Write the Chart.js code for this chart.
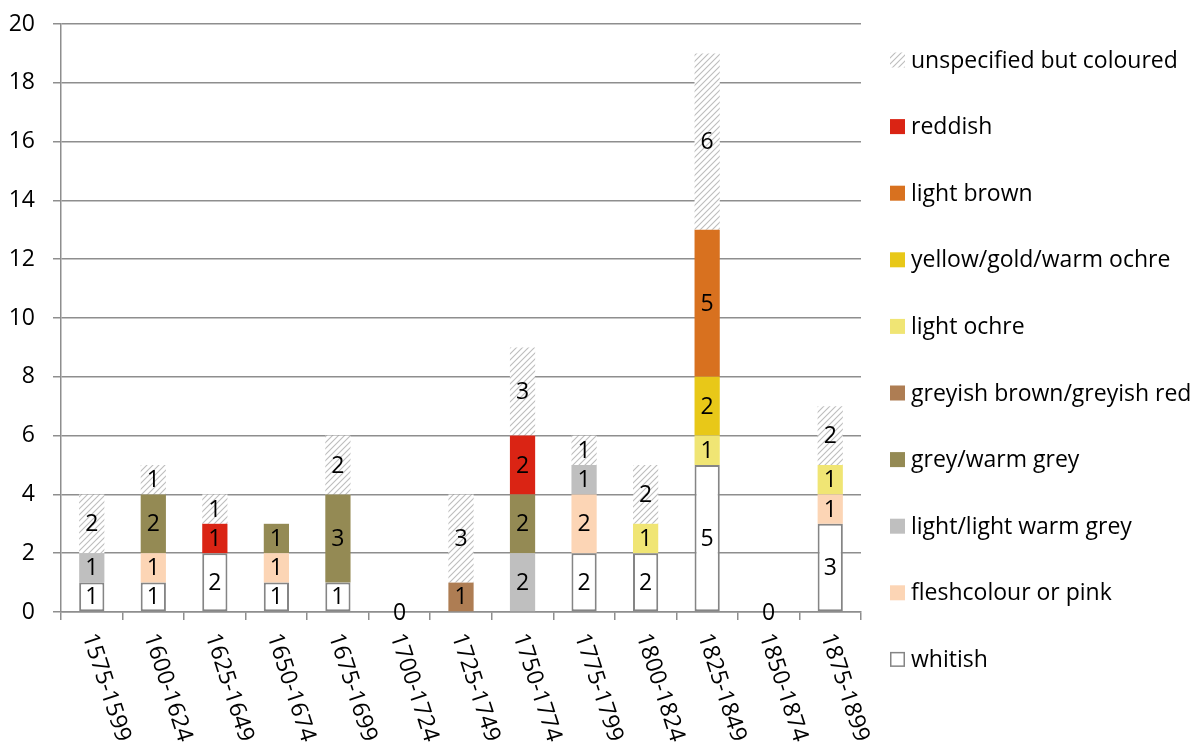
<!DOCTYPE html>
<html>
<head>
<meta charset="utf-8">
<script src="https://cdn.jsdelivr.net/npm/chart.js@4/dist/chart.umd.min.js"></script>
<style>
  html, body { margin: 0; padding: 0; background: #fff; }
  canvas { display: block; }
</style>
</head>
<body>
<canvas id="colourChart" width="1197" height="747"></canvas>
<script>
// Periods (x axis)
const categories = ['1575-1599', '1600-1624', '1625-1649', '1650-1674', '1675-1699', '1700-1724',
    '1725-1749', '1750-1774', '1775-1799', '1800-1824', '1825-1849', '1850-1874', '1875-1899'];

// Counts per colour group, bottom of the stack first
const whitish      = [1, 1, 2, 1, 1, 0, null, null, 2, 2, 5, 0, 3];
const fleshcolour  = [null, 1, null, 1, null, null, null, null, 2, null, null, null, 1];
const lightGrey    = [1, null, null, null, null, null, null, 2, 1, null, null, null, null];
const warmGrey     = [null, 2, null, 1, 3, null, null, 2, null, null, null, null, null];
const greyishBrown = [null, null, null, null, null, null, 1, null, null, null, null, null, null];
const lightOchre   = [null, null, null, null, null, null, null, null, null, 1, 1, null, 1];
const yellowGold   = [null, null, null, null, null, null, null, null, null, null, 2, null, null];
const lightBrown   = [null, null, null, null, null, null, null, null, null, null, 5, null, null];
const reddish      = [null, null, 1, null, null, null, null, 2, null, null, null, null, null];
const unspecified  = [2, 1, 1, null, 2, null, 3, 3, 1, 2, 6, null, 2];

const yTicks = [0, 2, 4, 6, 8, 10, 12, 14, 16, 18, 20];

const FONT = "'Open Sans', sans-serif";
const FONT_SIZE = 23;

// Hatched fill for "unspecified but coloured"
function makeHatch() {
    const c = document.createElement('canvas');
    c.width = 6;
    c.height = 6;
    const g = c.getContext('2d');
    g.fillStyle = '#ffffff';
    g.fillRect(0, 0, 6, 6);
    g.strokeStyle = '#bdbdbd';
    g.lineWidth = 1.1;
    g.beginPath();
    g.moveTo(0, 6); g.lineTo(6, 0);
    g.moveTo(-1, 1); g.lineTo(1, -1);
    g.moveTo(5, 7); g.lineTo(7, 5);
    g.stroke();
    return g.createPattern(c, 'repeat');
}
const hatch = makeHatch();

const datasets = [
    { label: 'whitish', data: whitish, backgroundColor: '#ffffff', borderColor: '#858585', borderWidth: 2 },
    { label: 'fleshcolour or pink', data: fleshcolour, backgroundColor: '#fcd5b5' },
    { label: 'light/light warm grey', data: lightGrey, backgroundColor: '#bfbfbf' },
    { label: 'grey/warm grey', data: warmGrey, backgroundColor: '#948a54' },
    { label: 'greyish brown/greyish red', data: greyishBrown, backgroundColor: '#ae7d53' },
    { label: 'light ochre', data: lightOchre, backgroundColor: '#f0e574' },
    { label: 'yellow/gold/warm ochre', data: yellowGold, backgroundColor: '#e8c818' },
    { label: 'light brown', data: lightBrown, backgroundColor: '#d8711f' },
    { label: 'reddish', data: reddish, backgroundColor: '#da2414' },
    { label: 'unspecified but coloured', data: unspecified, backgroundColor: hatch }
];
datasets.forEach(ds => {
    ds.borderSkipped = false;
    ds.barPercentage = 0.41;
    ds.categoryPercentage = 1;
    if (!ds.borderWidth) ds.borderWidth = 0;
});

// Value labels centred in each segment
const segmentLabels = {
    id: 'segmentLabels',
    afterDatasetsDraw(chart) {
        const ctx = chart.ctx;
        ctx.save();
        ctx.font = FONT_SIZE + 'px ' + FONT;
        ctx.fillStyle = '#000';
        ctx.textAlign = 'center';
        ctx.textBaseline = 'middle';
        chart.data.datasets.forEach((ds, i) => {
            const meta = chart.getDatasetMeta(i);
            meta.data.forEach((bar, j) => {
                const v = ds.data[j];
                if (v === null || v === undefined) return;
                ctx.fillText(String(v), bar.x, (bar.y + bar.base) / 2 + 1);
            });
        });
        ctx.restore();
    }
};

// Rotated period labels under the x axis
const periodLabels = {
    id: 'periodLabels',
    afterDraw(chart) {
        const ctx = chart.ctx;
        const xs = chart.scales.x;
        const top = chart.chartArea.bottom + 22;
        ctx.save();
        ctx.font = FONT_SIZE + 'px ' + FONT;
        ctx.fillStyle = '#000';
        ctx.textAlign = 'left';
        ctx.textBaseline = 'middle';
        categories.forEach((label, i) => {
            ctx.save();
            ctx.translate(xs.getPixelForValue(i) - 3, top);
            ctx.rotate(72 * Math.PI / 180);
            ctx.fillText(label, 0, 0);
            ctx.restore();
        });
        ctx.restore();
    }
};

// Legend on the right, top entry = top of the stack
const sideLegend = {
    id: 'sideLegend',
    afterDraw(chart) {
        const ctx = chart.ctx;
        const items = chart.data.datasets.slice().reverse();
        ctx.save();
        ctx.font = FONT_SIZE + 'px ' + FONT;
        ctx.textAlign = 'left';
        ctx.textBaseline = 'middle';
        items.forEach((ds, i) => {
            const cy = 60 + i * 66.6;
            ctx.fillStyle = ds.backgroundColor;
            ctx.fillRect(890, cy - 7.5, 15, 15);
            if (ds.borderWidth) {
                ctx.strokeStyle = ds.borderColor;
                ctx.lineWidth = 1.5;
                ctx.strokeRect(890.75, cy - 6.75, 13.5, 13.5);
            }
            ctx.fillStyle = '#000';
            ctx.fillText(ds.label, 911, cy + 1);
        });
        ctx.restore();
    }
};

new Chart(document.getElementById('colourChart'), {
    type: 'bar',
    data: { labels: categories, datasets: datasets },
    plugins: [segmentLabels, periodLabels, sideLegend],
    options: {
        responsive: false,
        animation: false,
        layout: { padding: { top: 24, right: 336, bottom: 127, left: 8 } },
        plugins: {
            legend: { display: false },
            tooltip: { enabled: false }
        },
        scales: {
            x: {
                stacked: true,
                grid: {
                    drawOnChartArea: false,
                    drawTicks: true,
                    tickLength: 8,
                    color: '#8e8e8e',
                    lineWidth: 1.5
                },
                border: { color: '#8e8e8e', width: 1.5 },
                ticks: { display: false }
            },
            y: {
                stacked: true,
                min: 0,
                max: 20,
                afterBuildTicks: scale => { scale.ticks = yTicks.map(v => ({ value: v })); },
                afterFit: scale => {
                    scale.width = 53;
                    scale.paddingTop = 0;
                    scale.paddingBottom = 0;
                },
                grid: { color: '#8e8e8e', lineWidth: 1.5, tickLength: 8 },
                border: { color: '#8e8e8e', width: 1.5 },
                ticks: {
                    padding: 18,
                    color: '#000',
                    font: { family: FONT, size: FONT_SIZE }
                }
            }
        }
    }
});
</script>
</body>
</html>
